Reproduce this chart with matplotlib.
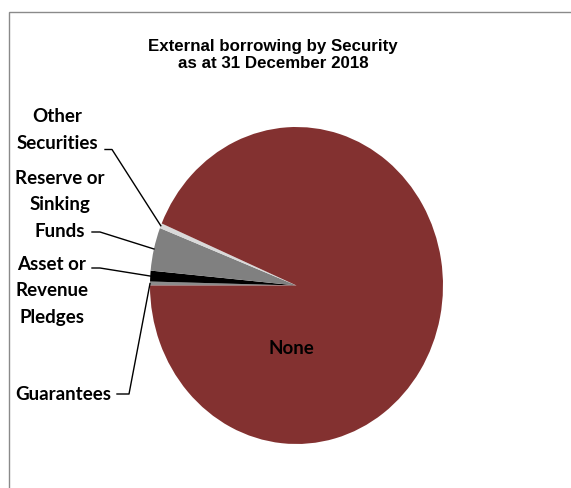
import numpy as np
import matplotlib
matplotlib.use("Agg")
import matplotlib.pyplot as plt

# External borrowing by security, share of total (%)
categories = ["Guarantees", "Asset or\nRevenue\nPledges", "Reserve or\nSinking\nFunds",
              "Other\nSecurities", "None"]
shares = [0.4, 1.1, 4.4, 0.5, 93.6]
colors = ["#8c8c8c", "#000000", "#808080", "#d9d9d9", "#833130"]

title_lines = ["External borrowing by Security", "as at 31 December 2018"]

W, H = 571, 489
fig = plt.figure(figsize=(W / 100, H / 100), dpi=100)

# Pie occupies an elliptical box
px0, px1, py0, py1 = 150, 443, 128, 445
pie_ax = fig.add_axes([px0 / W, 1 - py1 / H, (px1 - px0) / W, (py1 - py0) / H])
wedges, _ = pie_ax.pie(shares, colors=colors, startangle=180, counterclock=False,
                       radius=1.0, wedgeprops=dict(linewidth=0))
pie_ax.set_aspect("auto")
pie_ax.set_xlim(-1, 1)
pie_ax.set_ylim(-1, 1)
pie_ax.axis("off")

# Overlay axes in pixel units for frame, texts and leader lines (drawn above the pie)
ov = fig.add_axes([0, 0, 1, 1], zorder=5)
ov.set_xlim(0, W)
ov.set_ylim(H, 0)
ov.axis("off")
ov.patch.set_alpha(0)

# Chart area frame
ov.plot([9, 9, W + 5], [H + 5, 12.5, 12.5], color="#8a8a8a", lw=1.0,
        solid_joinstyle="miter", zorder=1)

# Title
tfont = dict(family="Liberation Sans", weight="bold", fontsize=12.2, color="#000000",
             ha="center", va="center")
ov.text(273, 47, title_lines[0], **tfont)
ov.text(273, 64, title_lines[1], **tfont)

lfont = dict(family="Lato", weight="bold", fontsize=13.5, color="#000000")

# Slice label layout: (text center x, first line center y, line end x, line y, elbow x)
label_layout = {
    "Other\nSecurities": (57, 117, 105, 150.5, 112),
    "Reserve or\nSinking\nFunds": (60, 178, 92, 233, 100),
    "Asset or\nRevenue\nPledges": (52, 264, 92, 269, 100),
    "Guarantees": (63, 394, 117, 395, 129),
}
line_step = 26.7

to_px = lambda xy: ov.transData.inverted().transform(pie_ax.transData.transform(xy))

for w, name in zip(wedges, categories):
    if name not in label_layout:
        continue
    tx, ty, lx0, ly, ex = label_layout[name]
    for i, line in enumerate(name.split("\n")):
        ov.text(tx, ty + i * line_step, line, ha="center", va="center", **lfont)
    mid = np.deg2rad((w.theta1 + w.theta2) / 2)
    edge = to_px((np.cos(mid), np.sin(mid)))
    ov.plot([lx0, ex, edge[0]], [ly, ly, edge[1]], color="#000000", lw=1.0, zorder=3)

ov.text(291, 349, "None", ha="center", va="center", **lfont)

fig.savefig("out.png", dpi=100, facecolor="white")
